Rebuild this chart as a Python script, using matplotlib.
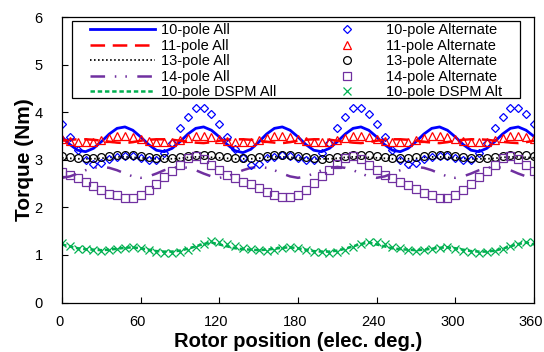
import numpy as np
import matplotlib
matplotlib.use('Agg')
from matplotlib import pyplot as plt
from matplotlib.patches import Rectangle
from matplotlib.transforms import ScaledTranslation

plt.rcParams['font.family'] = ['Liberation Sans', 'DejaVu Sans']
plt.rcParams['lines.scale_dashes'] = False

# rotor position (elec. deg.), one sample every 6 deg
angle = np.arange(0, 361, 6)

pole10_all = [3.48, 3.32, 3.20, 3.17, 3.24, 3.38, 3.54, 3.66, 3.69, 3.62,
              3.48, 3.32, 3.20, 3.17, 3.24, 3.38, 3.54, 3.66, 3.69, 3.62,
              3.48, 3.32, 3.19, 3.15, 3.22, 3.37, 3.54, 3.66, 3.69, 3.62,
              3.48, 3.32, 3.20, 3.17, 3.24, 3.38, 3.54, 3.66, 3.69, 3.62,
              3.48, 3.32, 3.20, 3.17, 3.24, 3.38, 3.54, 3.66, 3.69, 3.62,
              3.48, 3.32, 3.20, 3.17, 3.24, 3.38, 3.54, 3.66, 3.69, 3.62,
              3.49]
pole11_all = [3.40, 3.42, 3.43, 3.43, 3.42, 3.40, 3.38, 3.36, 3.35, 3.37,
              3.40, 3.42, 3.43, 3.43, 3.42, 3.40, 3.38, 3.36, 3.35, 3.37,
              3.40, 3.42, 3.43, 3.43, 3.42, 3.40, 3.38, 3.36, 3.35, 3.37,
              3.40, 3.42, 3.43, 3.43, 3.42, 3.40, 3.38, 3.36, 3.35, 3.37,
              3.40, 3.42, 3.43, 3.43, 3.42, 3.40, 3.38, 3.36, 3.35, 3.37,
              3.40, 3.42, 3.43, 3.43, 3.42, 3.40, 3.38, 3.36, 3.35, 3.37,
              3.40]
pole13_all = [3.04, 3.03, 3.02, 3.02, 3.02, 3.03, 3.05, 3.06, 3.06, 3.05,
              3.04, 3.03, 3.02, 3.02, 3.02, 3.03, 3.05, 3.06, 3.06, 3.05,
              3.04, 3.03, 3.02, 3.02, 3.02, 3.03, 3.05, 3.06, 3.06, 3.05,
              3.04, 3.03, 3.02, 3.02, 3.02, 3.03, 3.05, 3.06, 3.06, 3.05,
              3.04, 3.03, 3.02, 3.02, 3.02, 3.03, 3.05, 3.06, 3.06, 3.05,
              3.04, 3.03, 3.02, 3.02, 3.02, 3.03, 3.05, 3.06, 3.06, 3.05,
              3.04]
pole14_all = [2.62, 2.65, 2.71, 2.78, 2.83, 2.85, 2.83, 2.78, 2.71, 2.65,
              2.62, 2.65, 2.71, 2.78, 2.83, 2.85, 2.83, 2.78, 2.71, 2.65,
              2.62, 2.65, 2.71, 2.78, 2.83, 2.85, 2.83, 2.78, 2.71, 2.65,
              2.62, 2.65, 2.71, 2.78, 2.83, 2.85, 2.83, 2.78, 2.71, 2.65,
              2.62, 2.65, 2.71, 2.78, 2.83, 2.85, 2.83, 2.78, 2.71, 2.65,
              2.62, 2.65, 2.71, 2.78, 2.83, 2.85, 2.83, 2.78, 2.71, 2.65,
              2.62]
dspm_all = [1.22, 1.18, 1.14, 1.12, 1.11, 1.10, 1.11, 1.13, 1.15, 1.16,
            1.14, 1.11, 1.08, 1.07, 1.07, 1.09, 1.13, 1.18, 1.23, 1.26,
            1.22, 1.18, 1.14, 1.12, 1.11, 1.10, 1.11, 1.13, 1.15, 1.16,
            1.14, 1.11, 1.08, 1.07, 1.07, 1.09, 1.13, 1.18, 1.23, 1.26,
            1.22, 1.18, 1.14, 1.12, 1.11, 1.10, 1.11, 1.13, 1.15, 1.16,
            1.14, 1.11, 1.08, 1.07, 1.07, 1.09, 1.13, 1.18, 1.23, 1.26,
            1.22]

pole10_alt = [3.75, 3.48, 3.21, 2.99, 2.91, 2.93, 3.02, 3.06, 3.08, 3.07,
              3.03, 3.00, 3.00, 3.14, 3.35, 3.66, 3.90, 4.08, 4.08, 3.96,
              3.75, 3.48, 3.22, 3.03, 2.90, 2.92, 3.03, 3.06, 3.10, 3.08,
              3.04, 3.00, 2.99, 3.14, 3.35, 3.66, 3.90, 4.08, 4.08, 3.96,
              3.75, 3.48, 3.21, 2.99, 2.91, 2.93, 3.02, 3.06, 3.08, 3.07,
              3.03, 3.00, 3.00, 3.14, 3.35, 3.66, 3.90, 4.08, 4.08, 3.96,
              3.75]
pole11_alt = [3.44, 3.40, 3.37, 3.37, 3.38, 3.42, 3.46, 3.49, 3.50, 3.48,
              3.44, 3.40, 3.37, 3.37, 3.38, 3.42, 3.46, 3.49, 3.50, 3.48,
              3.44, 3.40, 3.37, 3.37, 3.38, 3.42, 3.46, 3.49, 3.50, 3.48,
              3.44, 3.40, 3.37, 3.37, 3.38, 3.42, 3.46, 3.49, 3.50, 3.48,
              3.44, 3.40, 3.37, 3.37, 3.38, 3.42, 3.46, 3.49, 3.50, 3.48,
              3.44, 3.40, 3.37, 3.37, 3.38, 3.42, 3.46, 3.49, 3.50, 3.48,
              3.44]
pole13_alt = [3.07, 3.05, 3.03, 3.03, 3.04, 3.05, 3.07, 3.09, 3.10, 3.09,
              3.07, 3.05, 3.03, 3.03, 3.04, 3.05, 3.07, 3.09, 3.10, 3.09,
              3.07, 3.05, 3.03, 3.03, 3.04, 3.05, 3.07, 3.09, 3.10, 3.09,
              3.07, 3.05, 3.03, 3.02, 3.03, 3.05, 3.07, 3.09, 3.10, 3.09,
              3.07, 3.05, 3.03, 3.03, 3.04, 3.05, 3.07, 3.09, 3.10, 3.09,
              3.07, 3.05, 3.03, 3.03, 3.04, 3.05, 3.07, 3.09, 3.10, 3.09,
              3.07]
pole14_alt = [2.75, 2.68, 2.62, 2.54, 2.45, 2.37, 2.29, 2.25, 2.19, 2.19,
              2.25, 2.36, 2.50, 2.64, 2.76, 2.89, 3.03, 3.07, 3.01, 2.90,
              2.78, 2.69, 2.61, 2.54, 2.48, 2.41, 2.33, 2.26, 2.21, 2.21,
              2.26, 2.37, 2.51, 2.65, 2.78, 2.91, 3.03, 3.07, 3.01, 2.90,
              2.78, 2.69, 2.61, 2.54, 2.47, 2.39, 2.31, 2.25, 2.20, 2.20,
              2.25, 2.36, 2.50, 2.64, 2.77, 2.90, 3.03, 3.07, 3.01, 2.90,
              2.76]
dspm_alt = [1.25, 1.18, 1.13, 1.12, 1.10, 1.08, 1.10, 1.12, 1.14, 1.17,
            1.15, 1.10, 1.07, 1.05, 1.05, 1.07, 1.10, 1.17, 1.24, 1.29,
            1.28, 1.23, 1.18, 1.14, 1.12, 1.10, 1.09, 1.11, 1.14, 1.16,
            1.14, 1.10, 1.07, 1.06, 1.05, 1.07, 1.11, 1.17, 1.24, 1.28,
            1.27, 1.22, 1.17, 1.14, 1.11, 1.09, 1.10, 1.12, 1.15, 1.16,
            1.13, 1.09, 1.07, 1.05, 1.06, 1.08, 1.12, 1.18, 1.23, 1.27,
            1.27]

blue = '#0000FF'
red = '#FF0000'
purple = '#7030A0'
green = '#00B050'

fig = plt.figure(figsize=(5.44, 3.52), dpi=100)
ax = fig.add_axes([0.114, 0.1406, 0.8676, 0.8111])

# full-machine lines
ax.plot(angle, pole10_all, color=blue, lw=2.0, label='10-pole All')
ax.plot(angle, pole11_all, color=red, lw=1.8, linestyle=(0, (10.5, 5.5)), label='11-pole All')
ax.plot(angle, pole13_all, color='black', lw=1.3, linestyle=(0, (1.1, 1.8)), label='13-pole All')
ax.plot(angle, pole14_all, color=purple, lw=1.8,
        linestyle=(0, (10.5, 7.0, 1.1, 6.5, 1.1, 7.5)), label='14-pole All')
ax.plot(angle, dspm_all, color=green, lw=1.8, linestyle=(0, (3.2, 2.0)), label='10-pole DSPM All')

# alternate-pole markers
mk = dict(linestyle='none', markerfacecolor='none', markeredgewidth=0.9)
ax.plot(angle, pole10_alt, marker='D', ms=3.9, markeredgecolor=blue, label='10-pole Alternate', **mk)
ax.plot(angle, pole11_alt, marker='^', ms=6.0, markeredgecolor=red, label='11-pole Alternate', **mk)
ax.plot(angle, pole13_alt, marker='o', ms=5.6, markeredgecolor='black', label='13-pole Alternate', **mk)
ax.plot(angle, pole14_alt, marker='s', ms=5.6, markeredgecolor=purple, label='14-pole Alternate', **mk)
ax.plot(angle, dspm_alt, marker='x', ms=5.8, markeredgecolor=green, label='10-pole DSPM Alt', **mk)

ax.set_xlim(0, 360)
ax.set_ylim(0, 6)
ax.set_xticks(np.arange(0, 361, 60))
ax.set_yticks(np.arange(0, 7, 1))
ax.tick_params(axis='both', direction='in', length=4, width=0.8, labelsize=10.5)
ax.tick_params(axis='x', pad=9)
ax.tick_params(axis='y', pad=14)
for s in ax.spines.values():
    s.set_linewidth(0.9)

# x tick labels sit a little left of their ticks in the original
for lab in ax.get_xticklabels():
    lab.set_transform(lab.get_transform() + ScaledTranslation(-2.0 / 72, 0, fig.dpi_scale_trans))

ax.set_xlabel('Rotor position (elec. deg.)', fontsize=14.5, fontweight='bold', labelpad=2)
ax.set_ylabel('Torque (Nm)', fontsize=15, fontweight='bold', labelpad=0)

# legend box
ax.add_patch(Rectangle((0.0212, 0.716), 0.9492, 0.270, transform=ax.transAxes,
                       facecolor='white', edgecolor='black', lw=0.9, zorder=4))
leg = ax.legend(loc='upper left', bbox_to_anchor=(0.0593, 0.978), ncol=2, frameon=False,
                fontsize=10.5, handlelength=4.45, handletextpad=0.45, columnspacing=2.6,
                labelspacing=0.1, borderpad=0, borderaxespad=0, numpoints=1)
leg.set_zorder(5)

fig.savefig('out.png', dpi=100)
